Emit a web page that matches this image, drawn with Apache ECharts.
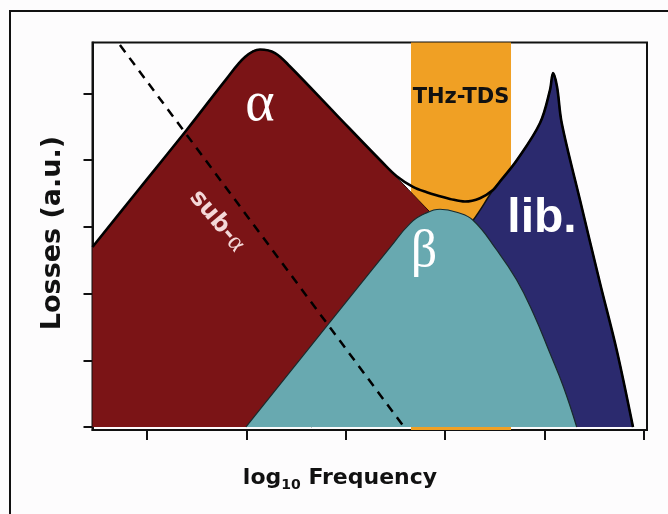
<!DOCTYPE html>
<html><head><meta charset="utf-8">
<script src="https://cdn.jsdelivr.net/npm/echarts@6/dist/echarts.min.js"></script>
<style>html,body{margin:0;padding:0;background:#fdfcfd}#c{width:668px;height:514px}</style>
</head><body><div id="c"></div>
<script>
// tick positions (log10 frequency decades, loss units) – unlabeled in the original
const xTicks = [0, 1, 2, 3, 4, 5];
const yTicks = [0, 1, 2, 3, 4, 5];
// THz-TDS window on the frequency axis
const thzBand = [2.656, 3.662];
// alpha relaxation
const alphaPts = [[-0.548,2.699],[-0.075,3.576],[0.399,4.453],[0.80,5.22],[0.986,5.547],[1.137,5.660],[1.288,5.607],[1.439,5.405],[1.906,4.680],[2.374,3.958],[2.797,3.300],[2.948,3.070],[3.5,2.216],[4.5,0]];
// beta relaxation
const betaPts = [[0.996,0],[1.5,0.94],[2.0,1.87],[2.45,2.70],[2.646,3.05],[2.797,3.20],[2.948,3.265],[3.116,3.22],[3.280,3.10],[3.518,2.654],[3.719,2.204],[3.886,1.705],[4.054,1.105],[4.189,0.604],[4.323,0]];
// librational mode
const libPts = [[1.65,0],[2.5,1.62],[3.28,3.10],[3.481,3.553],[3.551,3.68],[3.722,4.003],[3.954,4.558],[4.054,5.052],[4.085,5.307],[4.125,5.102],[4.172,4.558],[4.356,3.403],[4.557,2.159],[4.725,1.154],[4.889,0]];
// total loss envelope
const sumPts = [[-0.548,2.699],[-0.075,3.576],[0.399,4.453],[0.80,5.22],[0.986,5.547],[1.137,5.660],[1.288,5.607],[1.439,5.405],[1.906,4.680],[2.374,3.958],[2.512,3.76],[2.676,3.60],[2.814,3.52],[2.948,3.46],[3.048,3.42],[3.199,3.38],[3.350,3.43],[3.481,3.553],[3.551,3.68],[3.722,4.003],[3.954,4.558],[4.054,5.052],[4.085,5.307],[4.125,5.102],[4.172,4.558],[4.356,3.403],[4.557,2.159],[4.725,1.154],[4.889,0]];
// sub-alpha (dashed)
const subAlphaPts = [[-0.272,5.727],[2.586,0]];

const chart = echarts.init(document.getElementById('c'), null, {renderer:'canvas'});
const axisCol = '#111';
const sm = 0.45;
chart.setOption({
  animation: false,
  backgroundColor: '#fdfcfd',
  grid: {left: 92.5, right: 21, top: 42.5, bottom: 84, show: true, borderColor: axisCol, borderWidth: 2},
  xAxis: {type: 'value', min: -0.548, max: 5.03,
    axisLine: {show: true, onZero: false, lineStyle: {color: axisCol, width: 2}},
    axisTick: {show: true, customValues: xTicks, length: 10, lineStyle: {color: axisCol, width: 2}},
    axisLabel: {show: false}, splitLine: {show: false}},
  yAxis: {type: 'value', min: -0.045, max: 5.765,
    axisLine: {show: true, onZero: false, lineStyle: {color: axisCol, width: 2}},
    axisTick: {show: true, customValues: yTicks, length: 9, lineStyle: {color: axisCol, width: 2}},
    axisLabel: {show: false}, splitLine: {show: false}},
  series: [
    {type: 'line', data: [[thzBand[0], 0]], symbol: 'none', lineStyle: {opacity: 0}, z: 1,
      markArea: {silent: true, itemStyle: {color: '#f0a024'}, data: [[{xAxis: thzBand[0]}, {xAxis: thzBand[1]}]]}},
    {type: 'line', data: alphaPts, smooth: sm, symbol: 'none', z: 2,
      lineStyle: {color: '#2a0808', width: 1}, areaStyle: {color: '#7b1416', opacity: 1}},
    {type: 'line', data: libPts, smooth: 0.35, symbol: 'none', z: 3,
      lineStyle: {color: '#111', width: 1.5}, areaStyle: {color: '#2b2a6e', opacity: 1}},
    {type: 'line', data: betaPts, smooth: sm, symbol: 'none', z: 4,
      lineStyle: {color: '#1a2a2c', width: 1.2}, areaStyle: {color: '#68a9b0', opacity: 1}},
    {type: 'line', data: sumPts, smooth: 0.35, symbol: 'none', z: 5,
      lineStyle: {color: '#000', width: 2.6}},
    {type: 'line', data: subAlphaPts, symbol: 'none', z: 6,
      lineStyle: {color: '#000', width: 2.5, type: [9, 7]}}
  ],
  graphic: [
    {type: 'rect', shape: {x: 10, y: 11, width: 720, height: 620}, style: {fill: 'none', stroke: '#111', lineWidth: 2}, z: 0, silent: true},
    {type: 'text', x: 260, y: 105, z: 10, style: {text: 'α', fill: '#fff', font: '56px "Liberation Serif"', align: 'center', verticalAlign: 'middle'}},
    {type: 'text', x: 424, y: 252, z: 10, style: {text: 'β', fill: '#fff', font: '52px "Liberation Serif"', align: 'center', verticalAlign: 'middle'}},
    {type: 'text', x: 542, y: 219, z: 10, style: {text: 'lib.', fill: '#fff', font: 'bold 48px "Liberation Sans"', align: 'center', verticalAlign: 'middle'}},
    {type: 'text', x: 461, y: 98, z: 10, style: {text: 'THz-TDS', fill: '#111', font: 'bold 21px "DejaVu Sans"', align: 'center', verticalAlign: 'middle'}},
    {type: 'text', x: 217, y: 221, z: 10, rotation: -0.87, style: {text: '{a|sub-}{g|α}', align: 'center', verticalAlign: 'middle',
      rich: {a: {fill: '#f4d8d8', font: 'bold 24px "DejaVu Sans"'}, g: {fill: '#f4d8d8', font: '26px "Liberation Serif"'}}}},
    {type: 'text', x: 52.5, y: 233, z: 10, rotation: Math.PI / 2, style: {text: 'Losses (a.u.)', fill: '#111', font: 'bold 27px "DejaVu Sans"', align: 'center', verticalAlign: 'middle'}},
    {type: 'text', x: 340, y: 478, z: 10, style: {text: '{a|log}{s|10}{a| Frequency}', align: 'center', verticalAlign: 'middle',
      rich: {a: {fill: '#111', font: 'bold 22px "DejaVu Sans"', lineHeight: 28}, s: {fill: '#111', font: 'bold 14px "DejaVu Sans"', verticalAlign: 'bottom', lineHeight: 14}}}}
  ]
});
</script></body></html>
